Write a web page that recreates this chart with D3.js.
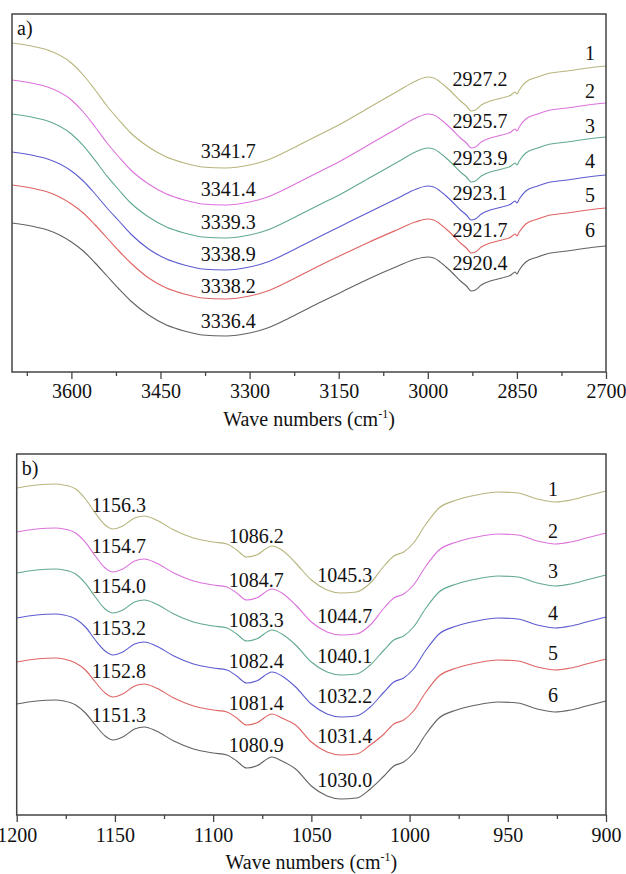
<!DOCTYPE html>
<html><head><meta charset="utf-8">
<script src="https://cdn.jsdelivr.net/npm/d3@7"></script>
<style>
html,body{margin:0;padding:0;background:#fff;}
svg text{font-family:"Liberation Serif","Times New Roman",serif;fill:#111;}
</style></head>
<body><svg id="chart" width="626" height="874"></svg>
<script>
// ---------- Panel a) data (wave numbers, cm-1) ----------
const waveA = [3700,3660,3640,3600,3580,3560,3540,3520,3500,3470,3440,3410,3380,3340,3300,3270,3240,3210,3180,3150,3100,3050,3020,3000,2990,2975,2960,2945,2935,2927,2920,2910,2895,2875,2860,2853,2850,2846,2835,2815,2800,2765,2730,2700];
const a1 = [164.5,162.5,161,154.5,148.5,141,133,126,119.5,112.5,107.5,104.5,102.5,102,103.5,106,110,114.5,119,123.5,132,140.5,145.5,147.5,147,144,140,135.5,133,130.5,131,133.5,135.5,137,138.5,140,139,141,145,147.5,149,150.5,152,153];
const a2 = [146,144,142.5,136,130,122.5,114.5,107.5,101,94,89,86,84,83.5,85,87.5,91.5,96,100.5,105,113.5,122,127,129,128.5,125.5,121.5,117,114.5,112,112.5,115,117,118.5,120,121.5,120.5,122.5,126.5,129,130.5,132,133.5,134.5];
const a3 = [129,127,125.5,119,113.2,105.8,97.9,91,84.5,77.5,72.5,69.5,67.5,67,68.5,71,75,79.5,84,88.4,96.8,105.1,110.1,112,111.5,108.5,104.5,100,97.5,95,95.5,98,100,101.5,103,104.5,103.5,105.5,109.5,112,113.5,115,116.5,117.5];
const a4 = [110,108,106.5,100.5,95.5,89,82,75.5,69,61.5,56.5,53.5,51.5,51,52.5,55,59,63.5,68,72.4,79.8,87,91.4,93,92.5,89.5,85.5,81,78.5,76,76.5,79,81,82.5,84,85.5,84.5,86.5,90.5,93,94.5,96,97.5,98.5];
const a5 = [93.5,91.5,90,84,79.5,73.5,67,60.5,54.5,47,42,39,37,36.5,38,40.5,44.5,49,53.5,57.8,64.8,71.3,75.1,76.5,76,73,69,64.5,62,59.5,60,62.5,64.5,66,67.5,69,68,70,74,76.5,78,79.5,81,82];
const a6 = [74.5,72.5,71,65,60.5,54.5,48,41.5,35.5,28.5,23.5,20.5,18.5,18,19.5,22,26,30.5,35,39.3,46.5,53,56.5,57.5,57,54,50,45.5,43,40.5,41,43.5,45.5,47,48.5,50,49,51,55,57.5,59,60.5,62,63];
const ticksA = [3600,3450,3300,3150,3000,2850,2700];
const minorTicksA = [3675,3525,3375,3225,3075,2925,2775];
const bandLabelsA = ["3341.7","3341.4","3339.3","3338.9","3338.2","3336.4"];
const bandLabelsAPos = [107,88,71.5,55.5,39.5,22];
const chLabelsA = ["2927.2","2925.7","2923.9","2923.1","2921.7","2920.4"];
const chLabelsAPos = [143,122,103.5,86,67.5,51];
const numLabelsAPos = [156,137,119.5,102,85,67.5];

// ---------- Panel b) data ----------
const waveB = [1200,1190,1180,1176,1170,1165,1160,1155,1151,1146,1140,1135,1129,1120,1110,1100,1093,1088,1083,1078,1070,1065,1058,1050,1042,1035,1027,1020,1013,1008,1003,998,992,985,976,966,955,945,935,926,918,910,900];
const b1 = [163.5,165,165.5,165,163,158,151,145,143,144.5,148.5,149.5,147.5,142.5,138.5,136.5,135.5,132.5,129,130,134.5,132.5,126,117.5,112.5,111,111.5,116,124.5,129.5,131.5,136,145,153.5,157.5,160,161.5,161,158,156.5,157.5,159.5,162];
const b2 = [141.5,143,143.5,143,141,136.3,129.5,123.5,121.5,123,127,128,126,121,117,115,114,111,107.5,108.5,113,111,105,96.5,91.5,90,90.5,95,103.5,108.5,110.5,115,124,132.5,136.5,139,140.5,140,137,135.5,136.5,138.5,141];
const b3 = [121,122.5,123,122.5,120.5,115.8,109,103,101,102.5,106.5,107.5,105.5,100.5,96.5,94.5,93.5,90.5,87,88,92.5,90.5,85,76.5,71.5,70,70.5,75,82.5,87.5,89.5,94,103,111.5,115.5,118,119.5,119,116,114.5,115.5,117.5,120];
const b4 = [98.5,100,100.5,100,98,94,87.5,82,80,81.5,85.5,86.5,84.5,79.5,75.5,73.5,72.5,69.5,66,67,71.5,69.5,64,55.5,50.5,49,49.5,54,61.5,66.5,68.5,73,82,90.5,94.5,97,98.5,98,95,93.5,94.5,96.5,99];
const b5 = [76.5,78,78.5,78,76,72.5,66.5,61,59,60.5,64.5,65.5,63.5,58.5,54.5,52.5,51.5,48.5,45,46,50.5,48.5,45,36.5,31.5,30,30.5,35,40.5,45.5,47.5,52,61,69.5,73.5,76,77.5,77,74,72.5,73.5,75.5,78];
const b6 = [55.5,57,57.5,57,55,51,45,39.5,37.5,39,43,44,42,37,33,31,30,27,23.5,24.5,29,27,23,14.5,9.5,8,8.5,13,19.5,24.5,26.5,31,40,48.5,52.5,55,56.5,56,53,51.5,52.5,54.5,57];
const ticksB = [1200,1150,1100,1050,1000,950,900];
const minorTicksB = [1175,1125,1075,1025,975,925];
const lab1B = ["1156.3","1154.7","1154.0","1153.2","1152.8","1151.3"];
const lab1BPos = [151.5,131,111,90,68.5,46.5];
const lab2B = ["1086.2","1084.7","1083.3","1082.4","1081.4","1080.9"];
const lab2BPos = [136,114,94,73.5,52.5,31.5];
const lab3B = ["1045.3","1044.7","1040.1","1032.2","1031.4","1030.0"];
const lab3BPos = [116.5,96,76,56,36,14];
const numLabelsBPos = [159.5,138.5,118.5,97.5,77.5,56.5];

const seriesNames = ["1","2","3","4","5","6"];
const colors = ["#b8b57c","#dc72dc","#62a98f","#5c5cd0","#df6464","#626262"];

const svg = d3.select("#chart");
const FONT = 20;

function panel(opt){
  const g = svg.append("g");
  const x = d3.scaleLinear().domain(opt.xDomain).range([opt.left, opt.right]);
  const y = d3.scaleLinear().domain(opt.yDomain).range([opt.bottom, opt.top]);
  const line = d3.line().x(d=>x(d[0])).y(d=>y(d[1])).curve(d3.curveMonotoneX);
  opt.series.forEach((s,i)=>{
    g.append("path").datum(opt.wave.map((w,j)=>[w,s[j]]))
      .attr("fill","none").attr("stroke",colors[i]).attr("stroke-width",1.1).attr("d",line);
  });
  const ax = d3.axisBottom(x).tickValues(opt.ticks).tickSize(7).tickPadding(opt.pad).tickFormat(d3.format("d"));
  const axG = g.append("g").attr("transform",`translate(0,${opt.bottom})`).call(ax);
  axG.select(".domain").remove();
  axG.selectAll("line").attr("stroke","#444").attr("stroke-width",1.3);
  axG.selectAll("text").attr("font-size",FONT).attr("fill","#111")
     .style("font-family",'"Liberation Serif","Times New Roman",serif');
  const mx = d3.axisBottom(x).tickValues(opt.minor).tickSize(4).tickFormat("");
  const mG = g.append("g").attr("transform",`translate(0,${opt.bottom})`).call(mx);
  mG.select(".domain").remove();
  mG.selectAll("line").attr("stroke","#444").attr("stroke-width",1.3);
  g.append("rect").attr("x",opt.left).attr("y",opt.top)
    .attr("width",opt.right-opt.left).attr("height",opt.bottom-opt.top)
    .attr("fill","none").attr("stroke","#444").attr("stroke-width",1.5);
  g.append("text").attr("x",opt.left+5).attr("y",opt.top+21).attr("font-size",FONT).text(opt.tag);
  const t = g.append("text").attr("x",(opt.left+opt.right)/2).attr("y",opt.bottom+54)
    .attr("text-anchor","middle").attr("font-size",FONT);
  t.append("tspan").text("Wave numbers (cm");
  t.append("tspan").attr("font-size",12).attr("dy",-8).text("-1");
  t.append("tspan").attr("dy",8).text(")");
  opt.labels.forEach(L=>{
    L.text.forEach((s,i)=>{
      g.append("text").attr("x",x(L.w)).attr("y",y(L.pos[i]))
        .attr("text-anchor","middle").attr("font-size",FONT).text(s);
    });
  });
}

panel({
  xDomain:[3700,2700], yDomain:[0,179], left:12, right:606, top:14, bottom:372,
  wave:waveA, series:[a1,a2,a3,a4,a5,a6], ticks:ticksA, minor:minorTicksA, pad:5, tag:"a)",
  labels:[
    {w:3336,text:bandLabelsA,pos:bandLabelsAPos},
    {w:2912,text:chLabelsA,pos:chLabelsAPos},
    {w:2727,text:seriesNames,pos:numLabelsAPos}
  ]
});
panel({
  xDomain:[1200,900], yDomain:[0,180.5], left:16.7, right:606, top:454, bottom:815,
  wave:waveB, series:[b1,b2,b3,b4,b5,b6], ticks:ticksB, minor:minorTicksB, pad:6, tag:"b)",
  labels:[
    {w:1148,text:lab1B,pos:lab1BPos},
    {w:1078,text:lab2B,pos:lab2BPos},
    {w:1033,text:lab3B,pos:lab3BPos},
    {w:927,text:seriesNames,pos:numLabelsBPos}
  ]
});
</script></body></html>
